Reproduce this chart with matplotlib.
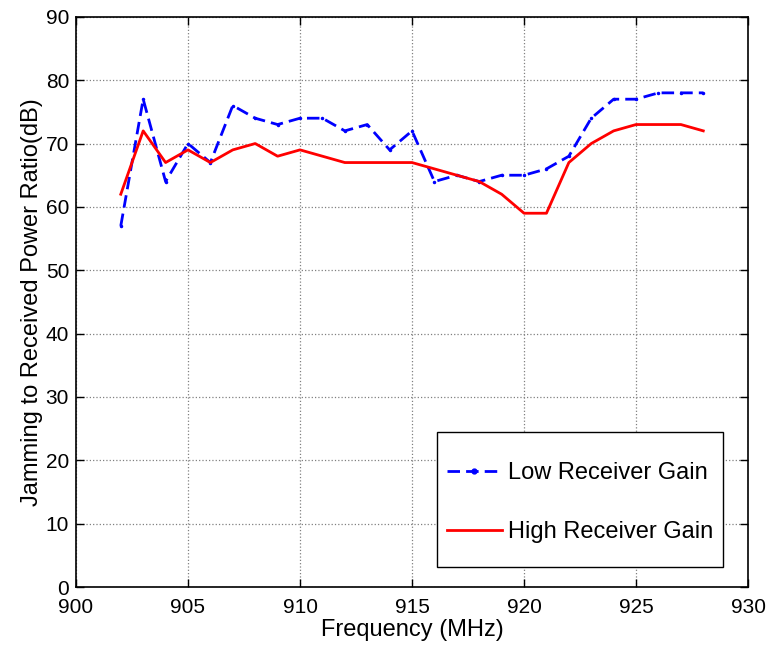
import matplotlib
matplotlib.use("Agg")
import matplotlib.pyplot as plt
from matplotlib.patches import Rectangle

plt.rcParams['font.family'] = ['Liberation Sans', 'DejaVu Sans']

# Frequencies (MHz) and measured ratios (dB)
freq = [902, 903, 904, 905, 906, 907, 908, 909, 910, 911, 912, 913, 914, 915,
        916, 917, 918, 919, 920, 921, 922, 923, 924, 925, 926, 927, 928]
low_gain = [57, 77, 64, 70, 67, 76, 74, 73, 74, 74, 72, 73, 69, 72,
            64, 65, 64, 65, 65, 66, 68, 74, 77, 77, 78, 78, 78]
high_gain = [62, 72, 67, 69, 67, 69, 70, 68, 69, 68, 67, 67, 67, 67,
             66, 65, 64, 62, 59, 59, 67, 70, 72, 73, 73, 73, 72]

fig = plt.figure(figsize=(7.69, 6.45), dpi=100)
ax = fig.add_axes([0.0988, 0.0899, 0.874, 0.884])

ax.plot(freq, low_gain, color="blue", linestyle="--", linewidth=2,
        marker=".", markersize=3, dashes=(4.5, 2.2), label="Low Receiver Gain")
ax.plot(freq, high_gain, color="red", linestyle="-", linewidth=2,
        label="High Receiver Gain")

ax.set_xlim(900, 930)
ax.set_ylim(0, 90)
ax.set_xticks(range(900, 931, 5))
ax.set_yticks(range(0, 91, 10))
ax.tick_params(direction="in", top=True, right=True, labelsize=15,
               length=6, width=1)
ax.tick_params(axis="x", pad=8)
ax.tick_params(axis="y", pad=5)
for s in ax.spines.values():
    s.set_linewidth(1.2)
ax.grid(True, linestyle=":", color="gray", linewidth=0.9)

ax.set_xlabel("Frequency (MHz)", fontsize=17, labelpad=1)
ax.set_ylabel("Jamming to Received Power Ratio(dB)", fontsize=17, labelpad=2)

# legend box drawn separately so the padding matches the reference
ax.add_patch(Rectangle((0.537, 0.035), 0.426, 0.237, transform=ax.transAxes,
                       facecolor="white", edgecolor="black", linewidth=1,
                       zorder=4))
leg = ax.legend(loc="center", fontsize=17, frameon=False,
                labelspacing=1.55, handlelength=2.3, handletextpad=0.25,
                bbox_to_anchor=(0.75, 0.148), borderaxespad=0, borderpad=0)
leg.set_zorder(5)
leg.legend_handles[0].set_markersize(7)

fig.savefig("out.png", dpi=100)
